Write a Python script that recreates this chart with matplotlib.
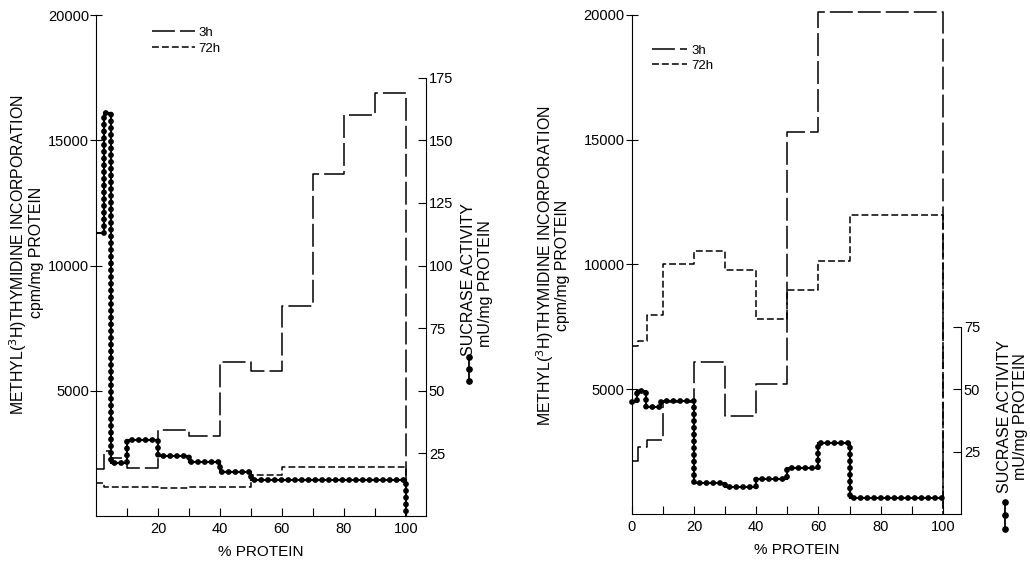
import numpy as np
import matplotlib
matplotlib.use("Agg")
import matplotlib.pyplot as plt
from matplotlib.lines import Line2D

plt.rcParams['font.family'] = ['Liberation Sans', 'DejaVu Sans']

# left panel
l_edges = [0, 2.5, 5, 10, 20, 30, 40, 50, 60, 70, 80, 90, 100]
l_3h = [1880, 2610, 2300, 1930, 3440, 3200, 6160, 5800, 8400, 13650, 16000, 16900]
l_72h_edges = [0, 2.5, 20, 30, 50, 60, 100]
l_72h = [1300, 1170, 1100, 1170, 1640, 1970]
l_suc_edges = [0, 2.5, 5, 10, 20, 30, 40, 50, 100]
l_suc = [113, 161, 21, 30.4, 24, 21.7, 17.7, 14.4]

# right panel
r_edges = [0, 2, 5, 10, 20, 30, 40, 50, 60, 70, 80, 90, 100]
r_3h = [2130, 2670, 2970, 4490, 6100, 3930, 5200, 15300, 20100, 20100, 20100, 20100]
r_72h = [6730, 6930, 7970, 10000, 10530, 9760, 7800, 8970, 10130, 12000, 12000, 12000]
r_suc_edges = [0, 1.6, 4.6, 9.5, 20, 30, 40, 50, 60, 70, 100]
r_suc = [44.9, 49.3, 42.7, 45.1, 12.4, 10.7, 14, 18.4, 28.3, 6.4]

dash_3h = (0, (15, 3.3))
dash_72h = (0, (4.5, 2))


def step_xy(edges, vals, drop=False):
    x = list(np.repeat(edges, 2)[1:-1])
    y = list(np.repeat(vals, 2))
    if drop:
        x.append(edges[-1])
        y.append(0)
    return x, y


def beads(ax, x, y):
    ax.plot(x, y, color="k", lw=1.5, solid_joinstyle="miter", clip_on=False)
    ax.plot(x, y, color="k", lw=4.2, linestyle=(0, (0.01, 1.15)),
            dash_capstyle="round", clip_on=False)


def panel(rect, xmax, suc_top, show_zero):
    ax = fig.add_axes(rect)
    ax2 = ax.twinx()
    ax.set_xlim(0, xmax)
    ax.set_ylim(0, 20000)
    ax2.set_ylim(0, 200)
    for s in ["top", "right"]:
        ax.spines[s].set_visible(False)
    for s in ["top", "left", "bottom"]:
        ax2.spines[s].set_visible(False)
    ax2.spines["right"].set_bounds(0, suc_top)
    ax.set_yticks([5000, 10000, 15000, 20000])
    ax.tick_params(axis="y", direction="inout", length=8, pad=1, labelsize=10.5)
    ax.set_xticks(range(10, 101, 10))
    xlabels = ["" if v % 20 else str(v) for v in range(10, 101, 10)]
    if show_zero:
        ax.set_xticks([0] + list(range(10, 101, 10)))
        xlabels = ["0"] + xlabels
    ax.set_xticklabels(xlabels)
    ax.tick_params(axis="x", direction="in", length=6, pad=4, labelsize=10.5)
    ax2.set_yticks(range(25, suc_top + 1, 25))
    ax2.tick_params(axis="y", direction="in", length=6, pad=2, labelsize=10.5)
    ax.set_xlabel("% PROTEIN", fontsize=11, labelpad=7)
    return ax, ax2


def suc_symbol(x, y0, y1):
    fig.add_artist(Line2D([x, x], [y0, y1], transform=fig.transFigure,
                          color="k", lw=1.3, marker="o", markersize=3.8))
    fig.add_artist(Line2D([x], [(y0 + y1) / 2], transform=fig.transFigure,
                          color="k", marker="o", markersize=3.8))


fig = plt.figure(figsize=(10.3, 5.64), dpi=100)

# ---- left
ax, ax2 = panel([0.0932, 0.0851, 0.3204, 0.8883], 106.5, 175, False)
x, y = step_xy(l_edges, l_3h, drop=True)
ax.plot(x, y, color="k", lw=1.1, linestyle=dash_3h, label="3h")
x, y = step_xy(l_72h_edges, l_72h, drop=True)
ax.plot(x, y, color="k", lw=1.1, linestyle=dash_72h, label="72h")
x, y = step_xy(l_suc_edges, l_suc, drop=True)
ax2.plot(x[:2], y[:2], color="k", lw=1.5)
beads(ax2, x[1:], y[1:])
ax.legend(loc="upper left", bbox_to_anchor=(0.135, 1.0), frameon=False,
          handlelength=3.2, handletextpad=0.3, labelspacing=0.25, fontsize=9.5)

fig.text(0.018, 0.549, "METHYL($^3$H)THYMIDINE INCORPORATION", rotation=90,
         ha="center", va="center", fontsize=11.4)
fig.text(0.035, 0.553, "cpm/mg PROTEIN", rotation=90, ha="center", va="center", fontsize=11.4)
fig.text(0.455, 0.505, "SUCRASE ACTIVITY", rotation=90, ha="center", va="center", fontsize=11.5)
fig.text(0.4715, 0.497, "mU/mg PROTEIN", rotation=90, ha="center", va="center", fontsize=11.5)
suc_symbol(0.455, 0.325, 0.367)

# ---- right
ax, ax2 = panel([0.6133, 0.0887, 0.3197, 0.8848], 105.8, 75, True)
x, y = step_xy(r_edges, r_3h, drop=True)
ax.plot(x, y, color="k", lw=1.1, linestyle=dash_3h, label="3h", clip_on=False)
x, y = step_xy(r_edges, r_72h, drop=True)
ax.plot(x, y, color="k", lw=1.1, linestyle=dash_72h, label="72h")
x, y = step_xy(r_suc_edges, r_suc)
beads(ax2, x, y)
ax.legend(loc="upper left", bbox_to_anchor=(0.025, 0.965), frameon=False,
          handlelength=2.7, handletextpad=0.3, labelspacing=0.25, fontsize=9.5)

fig.text(0.529, 0.528, "METHYL($^3$H)THYMIDINE INCORPORATION", rotation=90,
         ha="center", va="center", fontsize=11.4)
fig.text(0.546, 0.53, "cpm/mg PROTEIN", rotation=90, ha="center", va="center", fontsize=11.4)
fig.text(0.9755, 0.262, "SUCRASE ACTIVITY", rotation=90, ha="center", va="center", fontsize=11.5)
fig.text(0.991, 0.262, "mU/mg PROTEIN", rotation=90, ha="center", va="center", fontsize=11.5)
suc_symbol(0.9755, 0.062, 0.11)

fig.savefig("out.png", dpi=100)
